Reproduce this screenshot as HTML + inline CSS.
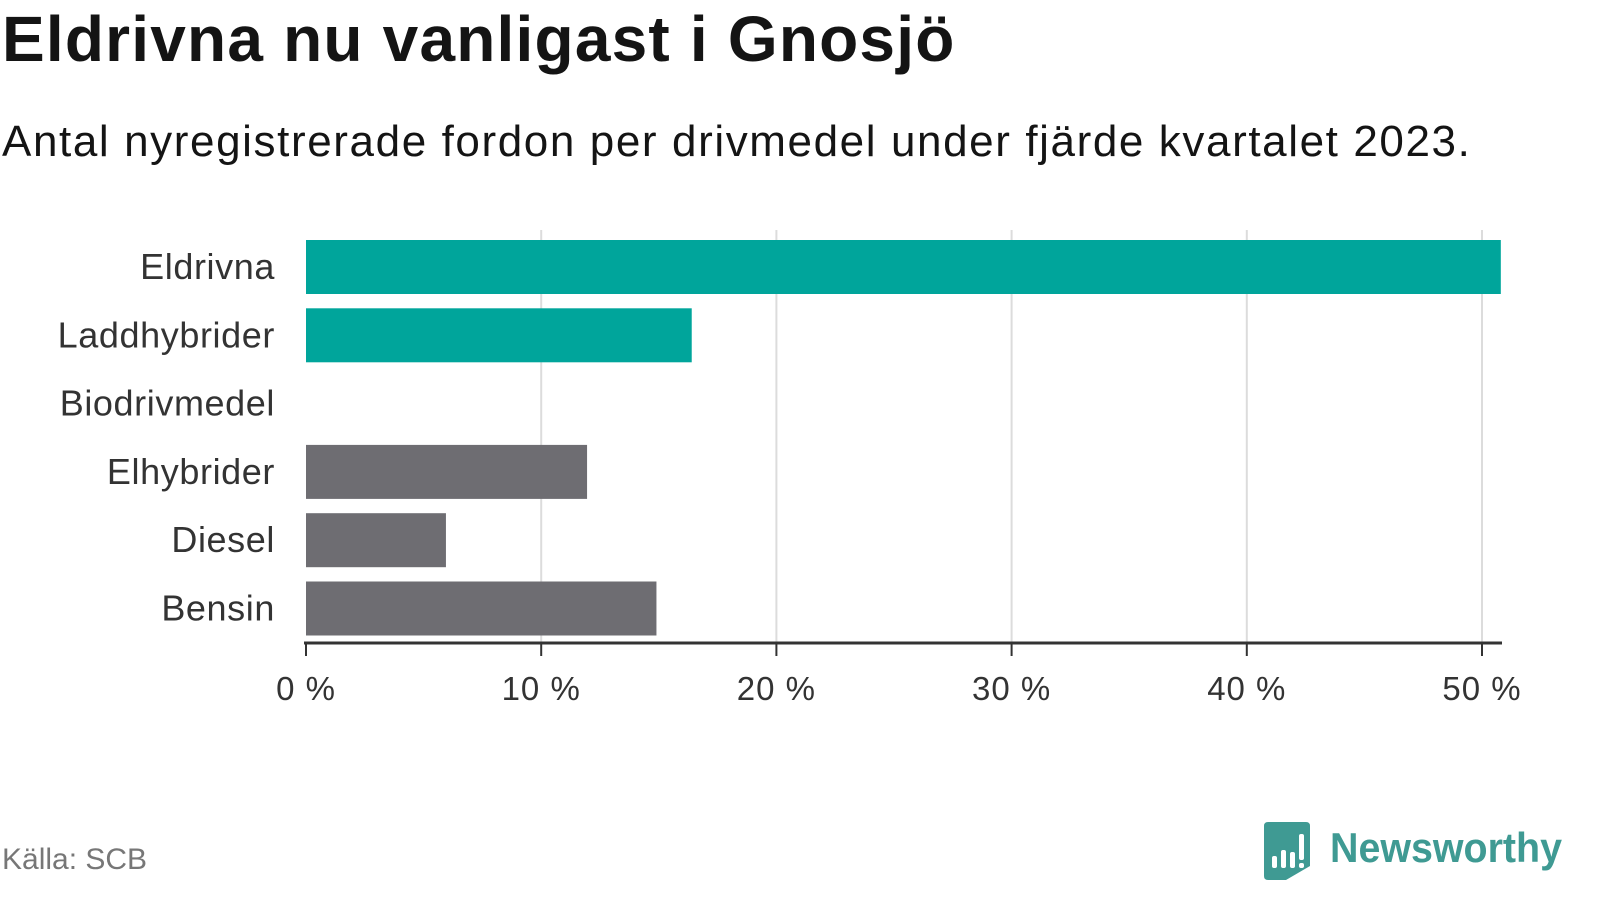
<!DOCTYPE html>
<html><head><meta charset="utf-8"><style>
body{margin:0;width:1600px;height:900px;background:#fff;font-family:"Liberation Sans",sans-serif;overflow:hidden;position:relative}
#title{position:absolute;left:2px;top:2px;font-size:64px;font-weight:bold;color:#141414;margin:0;letter-spacing:1.2px}
#sub{position:absolute;left:2px;top:117px;font-size:44px;color:#141414;letter-spacing:1.6px}
#src{position:absolute;left:2px;top:843px;font-size:30px;color:#777}
#logo{position:absolute;left:1262px;top:822px}
</style></head><body>
<h1 id="title">Eldrivna nu vanligast i Gnosjö</h1>
<div id="sub">Antal nyregistrerade fordon per drivmedel under fjärde kvartalet 2023.</div>
<svg id="chart" width="1600" height="900" style="position:absolute;left:0;top:0"></svg>
<div id="src">Källa: SCB</div>
<svg id="logo" width="320" height="62">
<path d="M2 4 Q2 0 6 0 L44 0 Q48 0 48 4 L48 44 L24 58 L6 58 Q2 58 2 54Z" fill="#3f9a93"/>
<rect x="10" y="34" width="5" height="12" rx="2" fill="#fff"/><rect x="19" y="28" width="5" height="18" rx="2" fill="#fff"/><rect x="28" y="30" width="5" height="16" rx="2" fill="#fff"/><rect x="37" y="12" width="5" height="26" rx="2" fill="#fff"/><rect x="37" y="41" width="5" height="5" rx="2" fill="#fff"/>
<text x="68" y="40" font-size="42" font-weight="bold" fill="#3f9a93" textLength="232" lengthAdjust="spacingAndGlyphs" font-family="Liberation Sans, sans-serif">Newsworthy</text>
</svg>
<script>
const categories=["Eldrivna","Laddhybrider","Biodrivmedel","Elhybrider","Diesel","Bensin"];
const values=[50.8,16.4,0,11.95,5.95,14.9];
const colors=["#00a59b","#00a59b","#00a59b","#6e6d72","#6e6d72","#6e6d72"];
const ticks=[0,10,20,30,40,50];
const svg=document.getElementById('chart');const NS="http://www.w3.org/2000/svg";
const x=v=>306+v*23.52;
const yTop=232,step=68.3,bh=54;
const y=i=>yTop+i*step+8;
function mk(t,a){const e=document.createElementNS(NS,t);for(const k in a)e.setAttribute(k,a[k]);svg.appendChild(e);return e;}
ticks.forEach(t=>{
 if(t>0){const g=mk('line',{x1:x(t),x2:x(t),y1:230,y2:643,stroke:'#dcdcdc','stroke-width':2});
 
 }
 const tk=mk('line',{x1:x(t),x2:x(t),y1:643,y2:656,stroke:'#333','stroke-width':2});
 
 
 const l=mk('text',{x:x(t),y:700,'text-anchor':'middle','font-size':33,fill:'#333','letter-spacing':1});l.textContent=t+' %';
 
 
});
categories.forEach((c,i)=>{
 const r=mk('rect',{x:x(0),y:y(i),width:Math.max(0,x(values[i])-x(0)),height:bh,fill:colors[i]});
 
 
 const l=mk('text',{x:275,y:y(i)+bh/2+12,'text-anchor':'end','font-size':36,fill:'#333','letter-spacing':0.6});l.textContent=c;
 
 
});
const ax=mk('line',{x1:304,x2:1502,y1:643,y2:643,stroke:'#333','stroke-width':3});


</script>
</body></html>
